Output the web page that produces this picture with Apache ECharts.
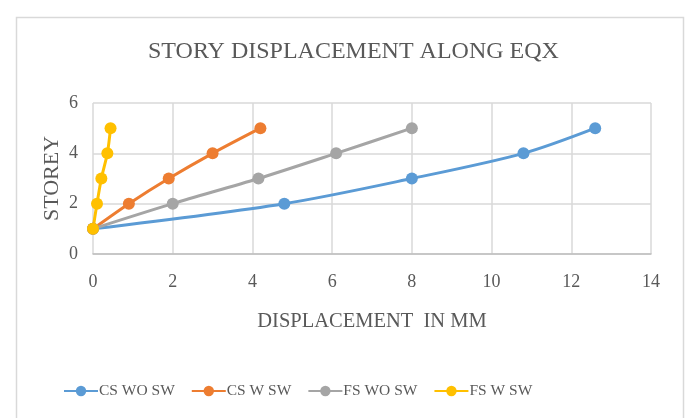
<!DOCTYPE html>
<html>
<head>
<meta charset="utf-8">
<script src="https://cdn.jsdelivr.net/npm/echarts@6/dist/echarts.min.js"></script>
<style>
	html, body { margin: 0; padding: 0; background: #fff; }
	#chart { width: 688px; height: 418px; }
</style>
</head>
<body>
<div id="chart"></div>
<script>
// storey levels, displacement (mm)
var storeys = [1, 2, 3, 4, 5];
var csWoSw = [0, 4.8, 8.0, 10.8, 12.6];
var csWSw = [0, 0.9, 1.9, 3.0, 4.2];
var fsWoSw = [0, 2.0, 4.15, 6.1, 8.0];
var fsWSw = [0, 0.1, 0.21, 0.36, 0.44];
var seriesNames = ['CS WO SW', 'CS W SW', 'FS WO SW', 'FS W SW'];
var seriesColors = ['#5b9bd5', '#ed7d31', '#a5a5a5', '#ffc000'];

var font = 'Liberation Serif';
var textColor = '#595959';

function pairs(xs) {
	var out = [];
	for (var i = 0; i < xs.length; i++) {
		out.push([xs[i], storeys[i]]);
	}
	return out;
}

var dom = document.getElementById('chart');
var myChart = echarts.init(dom, null, {renderer: 'canvas'});

var values = [csWoSw, csWSw, fsWoSw, fsWSw];
var series = [];
for (var i = 0; i < values.length; i++) {
	series.push({
		name: seriesNames[i],
		type: 'line',
		data: pairs(values[i]),
		smooth: 0.3,
		symbol: 'circle',
		symbolSize: 12,
		lineStyle: {width: 3, color: seriesColors[i]},
		itemStyle: {color: seriesColors[i]}
	});
}

var option = {
	animation: false,
	color: seriesColors,
	graphic: [{
		type: 'rect',
		left: 14,
		top: 15,
		shape: {width: 667, height: 420},
		style: {fill: 'none', stroke: '#d9d9d9', lineWidth: 1.5},
		silent: true
	}],
	title: {
		text: 'STORY DISPLACEMENT ALONG EQX',
		left: 143,
		top: 35,
		textStyle: {fontFamily: font, fontWeight: 'normal', fontSize: 24, color: textColor}
	},
	legend: {
		data: seriesNames,
		bottom: 14,
		left: 58,
		itemWidth: 34,
		itemHeight: 13,
		itemGap: 16,
		textStyle: {fontFamily: font, fontSize: 15.5, color: textColor, padding: [0, 0, 0, -4]}
	},
	grid: {
		left: 93,
		right: 37,
		top: 103,
		bottom: 164
	},
	xAxis: {
		type: 'value',
		min: 0,
		max: 14,
		interval: 2,
		name: 'DISPLACEMENT  IN MM',
		nameLocation: 'middle',
		nameGap: 57,
		nameMoveOverlap: false,
		nameTextStyle: {fontFamily: font, fontSize: 20.5, color: textColor},
		axisLine: {show: true, lineStyle: {color: '#bfbfbf', width: 1.5}},
		axisTick: {show: false},
		axisLabel: {fontFamily: font, fontSize: 18, color: textColor, margin: 19},
		splitLine: {show: true, lineStyle: {color: '#d9d9d9', width: 1.5}}
	},
	yAxis: {
		type: 'value',
		min: 0,
		max: 6,
		interval: 2,
		name: 'STOREY',
		nameLocation: 'middle',
		nameGap: 30,
		nameMoveOverlap: false,
		nameRotate: 90,
		nameTextStyle: {fontFamily: font, fontSize: 22, color: textColor},
		axisLine: {show: false},
		axisTick: {show: false},
		axisLabel: {fontFamily: font, fontSize: 18, color: textColor, margin: 15},
		splitLine: {show: true, lineStyle: {color: '#d9d9d9', width: 1.5}}
	},
	series: series
};

myChart.setOption(option);
</script>
</body>
</html>
